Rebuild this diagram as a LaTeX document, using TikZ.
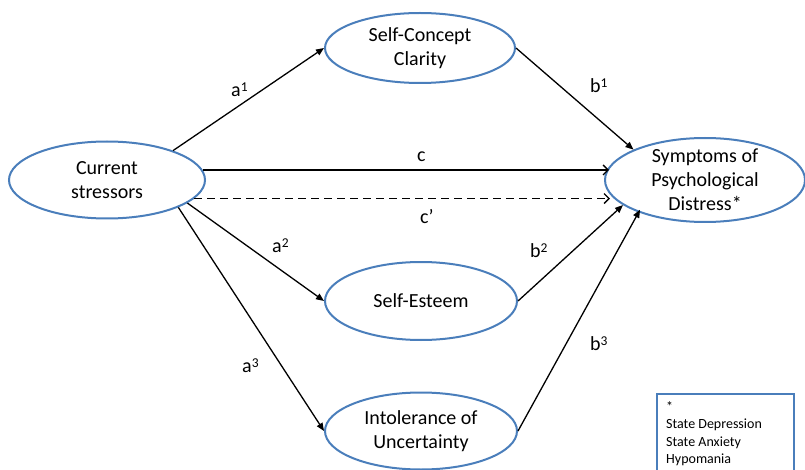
\documentclass[tikz,border=0pt]{standalone}
\usepackage{fontspec}
\setmainfont{Carlito}
\usetikzlibrary{shapes.geometric,arrows.meta}
\definecolor{ovalblue}{HTML}{4A7EBB}
% index number set small and raised after a path letter
\newcommand{\pathidx}[1]{\raisebox{5pt}{\fontsize{13.5}{13.5}\selectfont#1}}
\begin{document}
\begin{tikzpicture}[x=1pt,y=-1pt,
  oval/.style={ellipse, draw=ovalblue, line width=2pt, inner sep=0pt, align=center,
    font=\fontsize{20}{24}\selectfont},
  link/.style={line width=1.3pt, -{Triangle[length=8pt,width=6.5pt]}},
  openlink/.style={line width=1.3pt, -{Straight Barb[length=5pt,width=10pt]}},
  lbl/.style={anchor=base west, inner sep=0pt, font=\fontsize{20}{24}\selectfont},
  keybox/.style={draw=ovalblue, line width=1.5pt, inner sep=0pt},
  keytxt/.style={align=left, inner sep=0pt, font=\fontsize{14}{17.5}\selectfont}
]
\clip (0,0) rectangle (805,470);

% variables
\node[oval, minimum width=196pt, minimum height=77pt] (cs) at (107,180) {Current\\stressors};
\node[oval, minimum width=190pt, minimum height=70pt] (scc) at (420,48) {Self-Concept\\Clarity};
\node[oval, minimum width=192pt, minimum height=78pt] (se) at (421,301) {Self-Esteem};
\node[oval, minimum width=192pt, minimum height=77pt] (iu) at (421,431) {Intolerance of\\Uncertainty};
\node[oval, inner ysep=-8pt, minimum width=200pt, minimum height=84pt] (sd) at (705,180)
  {Symptoms of\\Psychological\\Distress*};

% paths a
\draw[link] (cs.24) -- (scc.west);
\draw[link] (cs.-16) -- (se.west);
\draw[link] (cs.-21) -- (iu.west);
% paths b
\draw[link] (scc.east) -- (sd.157);
\draw[link] (se.east) -- (sd.197);
\draw[link, shorten >=-3pt] (iu.east) -- (sd.206);
% total and direct effect
\draw[openlink, shorten >=-5pt] (cs.6) -- (cs.6 -| sd.west);
\draw[openlink, dash pattern=on 8pt off 5pt, shorten >=-6pt] (cs.-12) -- (cs.-12 -| sd.west);

% path labels
\node[lbl] (la1) at (231,97) {a\pathidx{1}};
\node[lbl] (la2) at (272,252) {a\pathidx{2}};
\node[lbl] (la3) at (242,372) {a\pathidx{3}};
\node[lbl] (lb1) at (590,93) {b\pathidx{1}};
\node[lbl] (lb2) at (530,258) {b\pathidx{2}};
\node[lbl] (lb3) at (590,350) {b\pathidx{3}};
\node[lbl] (lc) at (417,162) {c};
\node[lbl] (lcp) at (420,224) {c’};

% key to the outcome measures
\node[keybox, anchor=north west, minimum width=137pt, minimum height=90pt] (key) at (656,393) {};
\node[keytxt, anchor=north west] (keytext) at (666,401)
  {*\\State Depression\\State Anxiety\\Hypomania};
\end{tikzpicture}
\end{document}
